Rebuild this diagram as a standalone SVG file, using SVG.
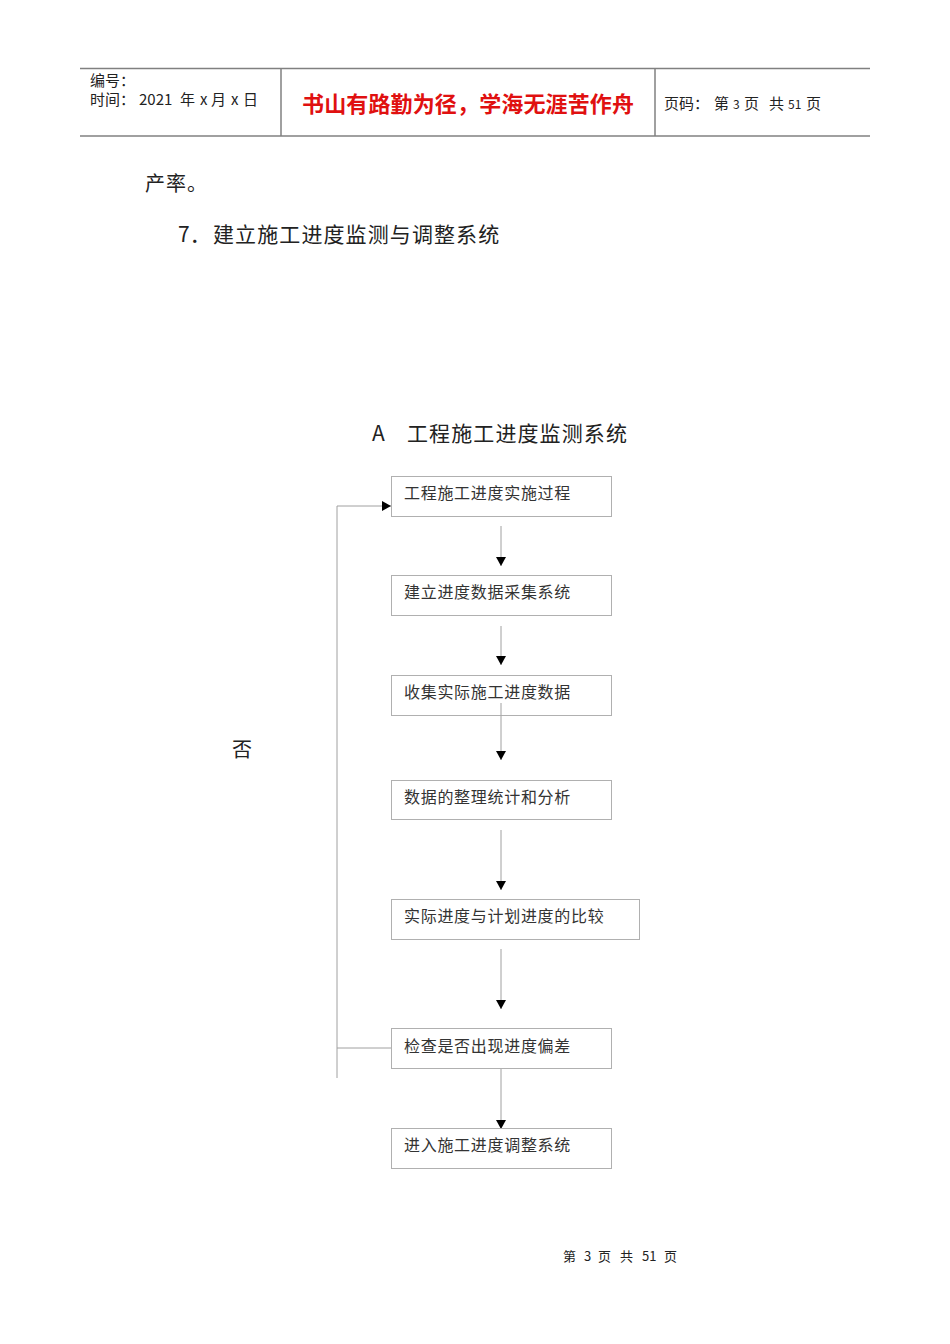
<svg xmlns="http://www.w3.org/2000/svg" width="950" height="1344" viewBox="0 0 950 1344">
<style>
.t{font-family:"Noto Sans CJK SC","Liberation Sans",sans-serif;fill:#222}
.box{fill:#fff;stroke:#b0b0b0;stroke-width:1}
.bt{font-family:"Noto Sans CJK SC","Liberation Sans",sans-serif;font-size:16px;letter-spacing:0.7px;fill:#333}
.conn{stroke:#a0a0a0;stroke-width:1;fill:none}
.hl{stroke:#808080;stroke-width:1.5;fill:none}
</style>
<defs>
<marker id="ah" markerWidth="10" markerHeight="10" refX="9" refY="5" orient="auto" markerUnits="userSpaceOnUse">
<path d="M0,0 L9,5 L0,10 Z" fill="#000"/>
</marker>
</defs>
<rect width="950" height="1344" fill="#fff"/>
<g id="header">
<line class="hl" x1="80" y1="68.5" x2="870" y2="68.5"/>
<line class="hl" x1="80" y1="136" x2="870" y2="136"/>
<line class="hl" x1="281" y1="68" x2="281" y2="136"/>
<line class="hl" x1="655" y1="68" x2="655" y2="136"/>
<text class="t" x="90" y="86" font-size="15">编号：</text>
<text class="t" y="105" font-size="15"><tspan x="90">时间：</tspan><tspan x="139">2021</tspan><tspan x="180">年</tspan><tspan x="200">x</tspan><tspan x="211">月</tspan><tspan x="231">x</tspan><tspan x="243">日</tspan></text>
<text x="302" y="112" font-size="22" font-weight="bold" fill="#e01010" font-family="Noto Sans CJK SC,sans-serif" textLength="332">书山有路勤为径，学海无涯苦作舟</text>
<text class="t" y="109" font-size="15"><tspan x="664">页码：</tspan><tspan x="714">第</tspan><tspan x="733" font-size="12">3</tspan><tspan x="744">页</tspan><tspan x="769">共</tspan><tspan x="788" font-size="12">51</tspan><tspan x="806">页</tspan></text>
</g>
<g id="body-text">
<text class="t" x="145" y="191" font-size="20" letter-spacing="1">产率。</text>
<text class="t" x="178" y="242" font-size="21"><tspan>7．</tspan><tspan x="213" letter-spacing="1.1">建立施工进度监测与调整系统</tspan></text>
<text class="t" x="372" y="441" font-size="21"><tspan>A</tspan><tspan x="407" letter-spacing="1.1">工程施工进度监测系统</tspan></text>
<text class="t" x="232" y="757" font-size="20">否</text>
</g>
<g id="connectors">
<line class="conn" x1="501" y1="526" x2="501" y2="566" marker-end="url(#ah)"/>
<line class="conn" x1="501" y1="626" x2="501" y2="665" marker-end="url(#ah)"/>
<line class="conn" x1="501" y1="703" x2="501" y2="760" marker-end="url(#ah)"/>
<line class="conn" x1="501" y1="830" x2="501" y2="890" marker-end="url(#ah)"/>
<line class="conn" x1="501" y1="949" x2="501" y2="1009" marker-end="url(#ah)"/>
<line class="conn" x1="501" y1="1068" x2="501" y2="1129" marker-end="url(#ah)"/>
<polyline class="conn" points="337,1078 337,506 391,506" marker-end="url(#ah)"/>
<line class="conn" x1="337" y1="1048" x2="391" y2="1048"/>
</g>
<g id="n1"><rect class="box" x="391.5" y="476.5" width="220" height="40"/><text class="bt" x="404" y="499">工程施工进度实施过程</text></g>
<g id="n2"><rect class="box" x="391.5" y="575.5" width="220" height="40"/><text class="bt" x="404" y="598">建立进度数据采集系统</text></g>
<g id="n3"><rect class="box" x="391.5" y="675.5" width="220" height="40"/><text class="bt" x="404" y="698">收集实际施工进度数据</text></g>
<line class="conn" x1="501" y1="703" x2="501" y2="715.5"/>
<g id="n4"><rect class="box" x="391.5" y="780.5" width="220" height="39"/><text class="bt" x="404" y="803">数据的整理统计和分析</text></g>
<g id="n5"><rect class="box" x="391.5" y="899.5" width="248" height="40"/><text class="bt" x="404" y="922">实际进度与计划进度的比较</text></g>
<g id="n6"><rect class="box" x="391.5" y="1028.5" width="220" height="40"/><text class="bt" x="404" y="1052">检查是否出现进度偏差</text></g>
<g id="n7"><rect class="box" x="391.5" y="1128.5" width="220" height="40"/><text class="bt" x="404" y="1151">进入施工进度调整系统</text></g>
<g id="footer">
<text class="t" y="1261" font-size="13" fill="#333"><tspan x="563">第</tspan><tspan x="584">3</tspan><tspan x="598">页</tspan><tspan x="620">共</tspan><tspan x="642">51</tspan><tspan x="664">页</tspan></text>
</g>
</svg>
